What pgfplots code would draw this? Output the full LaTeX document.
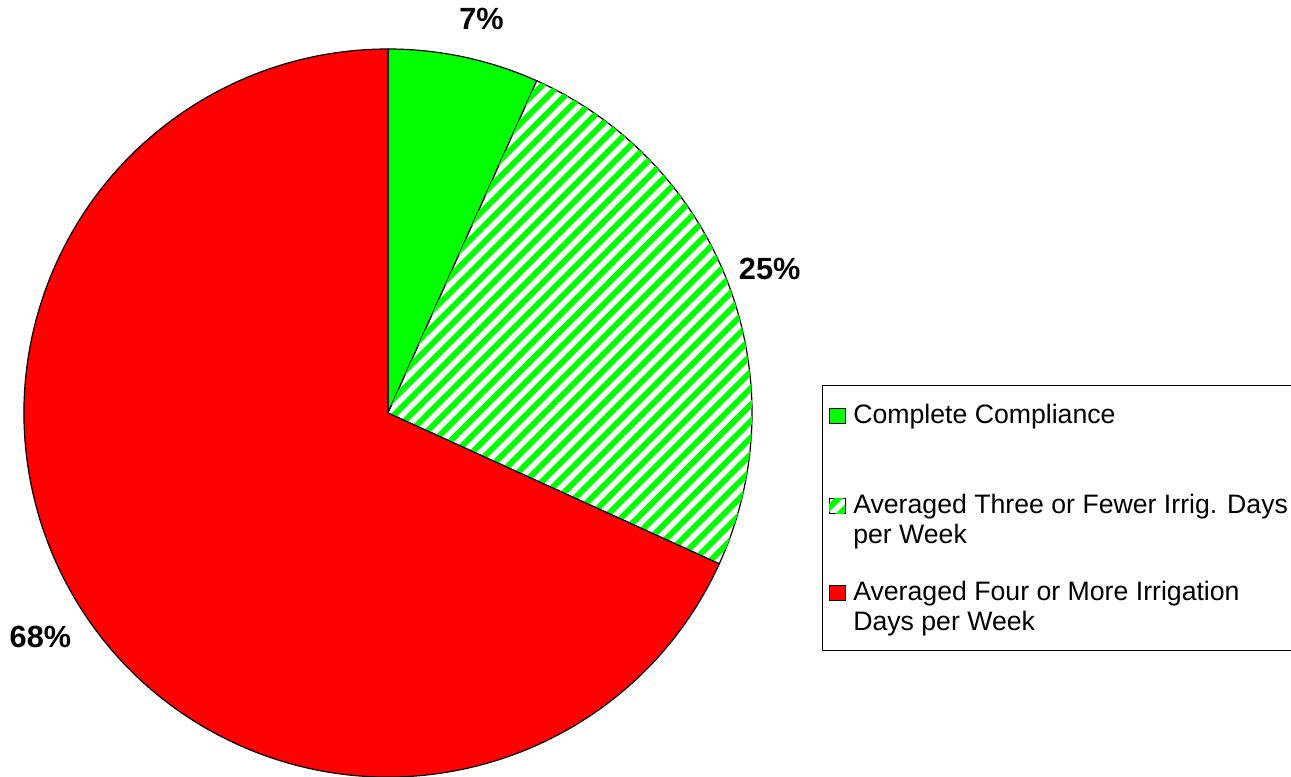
\documentclass[border=0pt]{standalone}
\usepackage{fontspec}
\setmainfont{Liberation Sans}
\usepackage{pgfplots}
\usepackage{pgfplotstable}
\pgfplotsset{compat=1.18}
\usetikzlibrary{patterns.meta}

\definecolor{pgreen}{RGB}{0,255,0}
\definecolor{pred}{RGB}{255,0,0}

% shares in percent, clockwise from 12 o'clock
\pgfplotstableread{
share
6.7
25.1
68.2
}\piedata

\tikzset{
  hatchgreen/.style={fill=white,
    postaction={pattern={Lines[angle=45,distance=8.75pt,line width=4.4pt]}, pattern color=pgreen}},
  wedge/.style={draw=black, line width=0.9pt},
  swatch/.style={draw=black, line width=0.75pt},
  legtext/.style={anchor=base west, inner sep=0pt, font=\fontsize{20}{22.5}\selectfont},
}

\begin{document}
\begin{tikzpicture}
  \pgfplotstablegetelem{0}{share}\of\piedata \let\sA\pgfplotsretval
  \pgfplotstablegetelem{1}{share}\of\piedata \let\sB\pgfplotsretval
  \pgfplotstablegetelem{2}{share}\of\piedata \let\sC\pgfplotsretval
  \pgfmathsetmacro\aA{90-3.6*\sA}
  \pgfmathsetmacro\aB{\aA-3.6*\sB}
  \pgfmathsetmacro\aC{\aB-3.6*\sC}
  \pgfmathsetmacro\mA{(90+\aA)/2}
  \pgfmathsetmacro\mB{(\aA+\aB)/2}
  \pgfmathsetmacro\mC{(\aB+\aC)/2}
  \pgfmathtruncatemacro\lA{round(\sA)}
  \pgfmathtruncatemacro\lB{round(\sB)}
  \pgfmathtruncatemacro\lC{round(\sC)}
  \def\R{273pt}
  \begin{axis}[
    scale only axis,
    width=968.25pt, height=582pt,
    xmin=0, xmax=1291, ymin=0, ymax=776,
    hide axis, clip=false,
  ]
    \coordinate (bl) at (axis cs:0,0);
    \coordinate (tr) at (axis cs:1291,776);
    % wedges
    \filldraw[wedge, fill=pgreen] (axis cs:388,363) -- ++(90:\R)
      arc[start angle=90, end angle=\aA, radius=\R] -- cycle;
    \filldraw[wedge, hatchgreen] (axis cs:388,363) -- ++(\aA:\R)
      arc[start angle=\aA, end angle=\aB, radius=\R] -- cycle;
    \filldraw[wedge, fill=pred] (axis cs:388,363) -- ++(\aB:\R)
      arc[start angle=\aB, end angle=\aC, radius=\R] -- cycle;

    % percentage labels
    \begin{scope}[every node/.style={font=\fontsize{23}{27}\selectfont\bfseries}]
      \node[xshift=7pt] at ([shift={(\mA:302pt)}]axis cs:388,363) {\lA\%};
      \node at ([shift={(\mB:306pt)}]axis cs:388,363) {\lB\%};
      \node at ([shift={(\mC:310pt)}]axis cs:388,363) {\lC\%};
    \end{scope}

    % legend
    \draw[line width=0.75pt, fill=white] (axis cs:822,391) rectangle (axis cs:1300,126);
    \filldraw[swatch, fill=pgreen] (axis cs:829,353) rectangle (axis cs:845,368);
    \filldraw[swatch, hatchgreen] (axis cs:829,263) rectangle (axis cs:845,278);
    \filldraw[swatch, fill=pred]   (axis cs:829,176) rectangle (axis cs:845,191);
    \node[legtext] at (axis cs:853,353) {\parbox[t]{340pt}{Complete Compliance}};
    \node[legtext] at (axis cs:853,263) {\parbox[t]{340pt}{Averaged Three or Fewer Irrig. Days\\per Week}};
    \node[legtext] at (axis cs:853,176) {\parbox[t]{340pt}{Averaged Four or More Irrigation\\Days per Week}};
  \end{axis}
  \pgfresetboundingbox
  \path (bl) rectangle (tr);
\end{tikzpicture}
\end{document}
